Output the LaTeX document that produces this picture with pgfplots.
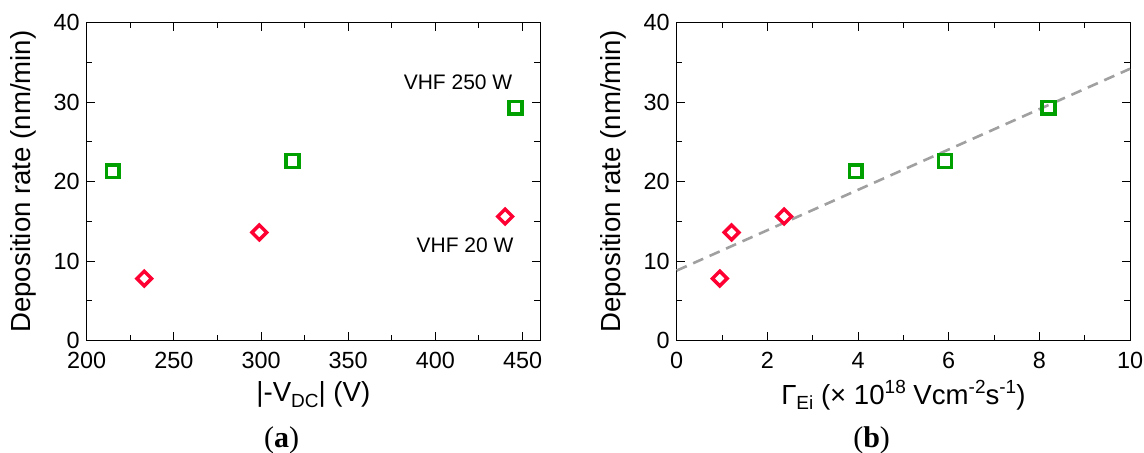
\documentclass[border=0pt]{standalone}
\usepackage{pgfplots}
\pgfplotsset{compat=1.18}
\usepackage{fontspec}
\setmainfont{Liberation Sans}
\newfontfamily\capfont{Liberation Serif}
\definecolor{mygreen}{HTML}{00A000}
\definecolor{myred}{HTML}{FF0033}
\definecolor{mygray}{HTML}{A0A0A0}

\pgfplotstableread{
x y
215 21.3
318 22.6
446 29.3
}\greenA
\pgfplotstableread{
x y
233 7.8
299 13.6
440 15.6
}\redA
\pgfplotstableread{
x y
3.95 21.3
5.92 22.6
8.20 29.3
}\greenB
\pgfplotstableread{
x y
0.95 7.8
1.21 13.6
2.37 15.6
}\redB

\newcommand{\lsub}[1]{\raisebox{-0.35ex}{\fontsize{9.5}{10}\selectfont #1}}
\newcommand{\lsup}[1]{\raisebox{0.75ex}{\fontsize{9.5}{10}\selectfont #1}}

\pgfplotsset{
  panel/.style={
    scale only axis, width=226.65pt, height=158.9pt,
    anchor=south west, clip=false,
    ymin=0, ymax=40, ytick={0,10,...,40}, minor y tick num=1,
    tick align=inside, major tick length=4pt, minor tick length=2.8pt,
    tick style={black, line width=0.5pt},
    axis line style={line width=0.5pt},
    ticklabel style={font=\fontsize{11.7}{13}\selectfont},
    /pgf/number format/assume math mode=true,
    xticklabel style={yshift=-2.5pt},
    label style={font=\fontsize{13.8}{16}\selectfont},
    ylabel style={at={(axis description cs:-0.1405,0.5)}, anchor=center},
    xlabel style={at={(axis description cs:0.5,-0.171)}, anchor=center},
    ylabel={Deposition rate (nm/min)},
  },
  gmark/.style={only marks, mark=square, mark size=3.2pt, mygreen,
    mark options={line width=1.8pt, solid}},
  rmark/.style={only marks, mark=square, mark size=2.6pt, myred,
    mark options={line width=1.7pt, solid, rotate=45}},
}

\begin{document}
\begin{tikzpicture}
\path[use as bounding box] (-43.35pt,-56.25pt) rectangle (528.65pt,170.25pt);

\begin{axis}[panel, at={(0pt,0pt)},
  xmin=200, xmax=460, xtick={200,250,...,450}, minor x tick num=1,
  xlabel={|-V\lsub{DC}| (V)}]
\addplot[gmark] table[x=x,y=y] {\greenA};
\addplot[rmark] table[x=x,y=y] {\redA};
\node[font=\fontsize{10.5}{12}\selectfont] at (axis cs:413,32.56) {VHF 250 W};
\node[font=\fontsize{10.5}{12}\selectfont] at (axis cs:417,11.94) {VHF 20 W};
\node[font=\capfont\fontsize{15}{17}\selectfont] at (axis description cs:0.430,-0.313) {(\textbf{a})};
\end{axis}

\begin{axis}[panel, at={(295pt,0pt)},
  xmin=0, xmax=10, xtick={0,2,...,10}, minor x tick num=1,
  xlabel={Γ\lsub{Ei} (× 10\lsup{18} Vcm\lsup{-2}s\lsup{-1})}]
\addplot[mygray, line width=1.3pt, dash pattern=on 5.5pt off 3.5pt] coordinates {(0,8.8) (10,34.2)};
\addplot[gmark] table[x=x,y=y] {\greenB};
\addplot[rmark] table[x=x,y=y] {\redB};
\node[font=\capfont\fontsize{15}{17}\selectfont] at (axis description cs:0.430,-0.313) {(\textbf{b})};
\end{axis}
\end{tikzpicture}
\end{document}
